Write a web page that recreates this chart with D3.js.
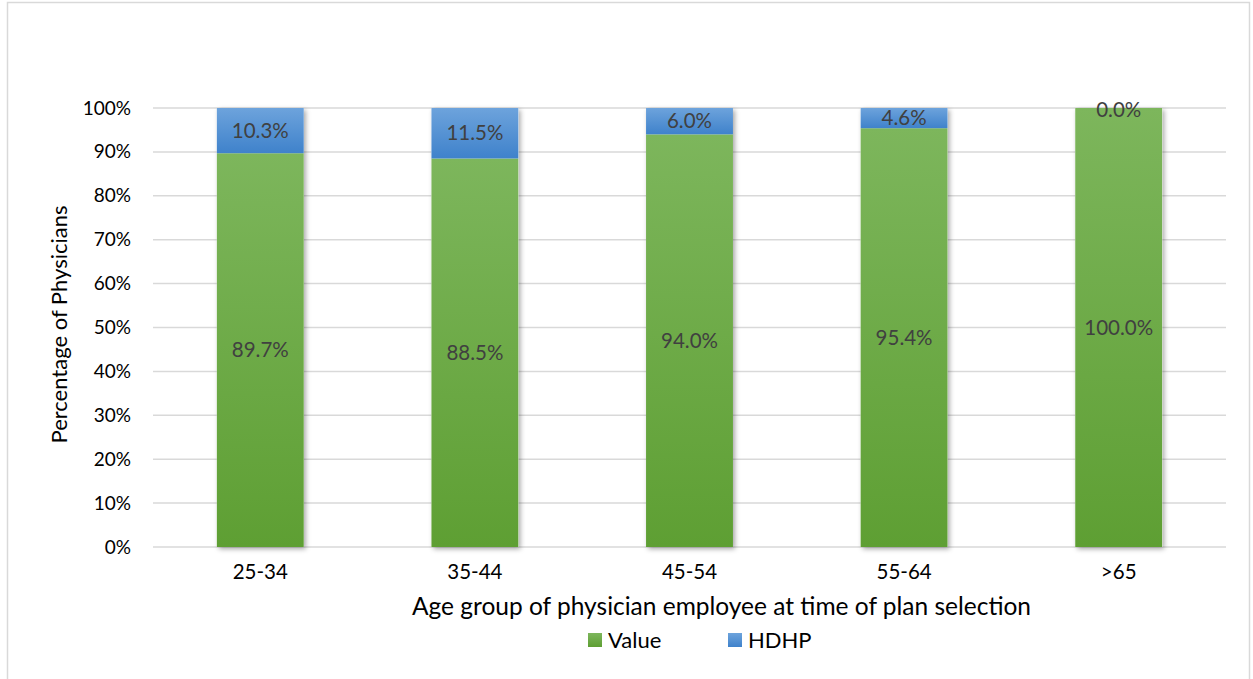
<!DOCTYPE html>
<html>
<head>
<meta charset="utf-8">
<script src="https://cdn.jsdelivr.net/npm/d3@7"></script>
<style>
  body { margin: 0; background: #fff; }
  svg { font-family: Lato, "Open Sans", sans-serif; }
</style>
</head>
<body>
<div id="container"></div>
<script>
const ageGroups = ["25-34", "35-44", "45-54", "55-64", ">65"];
const valuePct = [89.7, 88.5, 94.0, 95.4, 100.0];
const hdhpPct = [10.3, 11.5, 6.0, 4.6, 0.0];
const seriesNames = ["Value", "HDHP"];
const yTicks = [0, 10, 20, 30, 40, 50, 60, 70, 80, 90, 100];

const W = 1253, H = 679;
const margin = {top: 108, right: 27, bottom: 132, left: 153};
const width = W - margin.left - margin.right,
      height = H - margin.top - margin.bottom;

const root = d3.select("#container").append("svg")
    .attr("width", W)
    .attr("height", H);

// chart border
root.append("rect")
    .attr("x", 7.5).attr("y", 2.5)
    .attr("width", W - 11).attr("height", H + 10)
    .attr("fill", "none")
    .attr("stroke", "#d9d9d9")
    .attr("stroke-width", 1.5);

const defs = root.append("defs");
const gGreen = defs.append("linearGradient").attr("id", "gGreen")
    .attr("x1", 0).attr("y1", 0).attr("x2", 0).attr("y2", 1);
gGreen.append("stop").attr("offset", "0%").attr("stop-color", "#7db65c");
gGreen.append("stop").attr("offset", "100%").attr("stop-color", "#5e9f33");
const gBlue = defs.append("linearGradient").attr("id", "gBlue")
    .attr("x1", 0).attr("y1", 0).attr("x2", 0).attr("y2", 1);
gBlue.append("stop").attr("offset", "0%").attr("stop-color", "#6da3dc");
gBlue.append("stop").attr("offset", "100%").attr("stop-color", "#3f82cb");
const shadow = defs.append("filter").attr("id", "shadow")
    .attr("x", "-20%").attr("y", "-5%").attr("width", "140%").attr("height", "115%");
shadow.append("feDropShadow")
    .attr("dx", 2).attr("dy", 2).attr("stdDeviation", 2.5)
    .attr("flood-color", "#000").attr("flood-opacity", 0.35);

const svg = root.append("g")
    .attr("transform", "translate(" + margin.left + "," + margin.top + ")");

const x = d3.scaleBand()
    .domain(ageGroups)
    .range([0, width])
    .paddingInner(0.595)
    .paddingOuter(0.2975);

const y = d3.scaleLinear()
    .domain([0, 100])
    .range([height, 0]);

// gridlines
svg.append("g")
    .selectAll("line")
    .data(yTicks)
    .enter()
    .append("line")
    .attr("x1", 0).attr("x2", width)
    .attr("y1", d => y(d)).attr("y2", d => y(d))
    .attr("stroke", "#d9d9d9")
    .attr("stroke-width", 1.5);

// y axis labels
svg.append("g")
    .call(d3.axisLeft(y).tickValues(yTicks).tickSize(0).tickPadding(22).tickFormat(d => d + "%"))
    .call(g => g.select(".domain").remove())
    .selectAll("text")
    .attr("font-family", "Lato, 'Open Sans', sans-serif")
    .attr("font-size", 19)
    .attr("fill", "#000");

// x axis labels
svg.append("g")
    .attr("transform", `translate(0,${height})`)
    .call(d3.axisBottom(x).tickSize(0).tickPadding(17))
    .call(g => g.select(".domain").remove())
    .selectAll("text")
    .attr("font-family", "Lato, 'Open Sans', sans-serif")
    .attr("font-size", 20.5)
    .attr("fill", "#000");

const data = ageGroups.map((a, i) => ({age: a, value: valuePct[i], hdhp: hdhpPct[i]}));
const stacked = d3.stack().keys(["value", "hdhp"])(data);
const fills = ["url(#gGreen)", "url(#gBlue)"];

// bar shadows (whole stack)
svg.append("g")
    .selectAll("rect")
    .data(data)
    .enter()
    .append("rect")
    .attr("x", d => x(d.age))
    .attr("y", d => y(d.value + d.hdhp))
    .attr("width", x.bandwidth())
    .attr("height", d => y(0) - y(d.value + d.hdhp))
    .attr("fill", "#fff")
    .attr("filter", "url(#shadow)");

// bars
svg.selectAll(".series")
    .data(stacked)
    .enter()
    .append("g")
    .attr("class", "series")
    .attr("fill", (d, i) => fills[i])
    .selectAll("rect")
    .data(d => d)
    .enter()
    .append("rect")
    .attr("x", d => x(d.data.age))
    .attr("y", d => y(d[1]))
    .attr("width", x.bandwidth())
    .attr("height", d => y(d[0]) - y(d[1]));

// value labels
svg.selectAll(".labels")
    .data(stacked)
    .enter()
    .append("g")
    .selectAll("text")
    .data(d => d)
    .enter()
    .append("text")
    .attr("x", d => x(d.data.age) + x.bandwidth() / 2)
    .attr("y", d => (y(d[0]) + y(d[1])) / 2 + (d[1] - d[0] === 0 ? 2 : 0))
    .attr("dy", "0.35em")
    .attr("text-anchor", "middle")
    .attr("font-size", 20.5)
    .attr("fill", "#404040")
    .text(d => (d[1] - d[0]).toFixed(1) + "%");

// axis titles
svg.append("text")
    .attr("x", width / 2 + 32)
    .attr("y", height + 68)
    .attr("text-anchor", "middle")
    .attr("font-size", 24.5)
    .attr("fill", "#000")
    .text("Age group of physician employee at time of plan selection");

svg.append("text")
    .attr("transform", `translate(${-86},${height / 2 - 3}) rotate(-90)`)
    .attr("text-anchor", "middle")
    .attr("font-size", 22)
    .attr("fill", "#000")
    .text("Percentage of Physicians");

// legend
const legendData = [
    {label: seriesNames[0], color: "url(#gGreen)", x: 588},
    {label: seriesNames[1], color: "url(#gBlue)", x: 728}
];
const legend = root.selectAll(".legend")
    .data(legendData)
    .enter()
    .append("g")
    .attr("class", "legend")
    .attr("transform", d => `translate(${d.x},633)`);
legend.append("rect")
    .attr("width", 14)
    .attr("height", 14)
    .attr("fill", d => d.color);
legend.append("text")
    .attr("x", 20)
    .attr("y", 7)
    .attr("dy", "0.35em")
    .attr("font-size", 22)
    .attr("fill", "#000")
    .text(d => d.label);
</script>
</body>
</html>
